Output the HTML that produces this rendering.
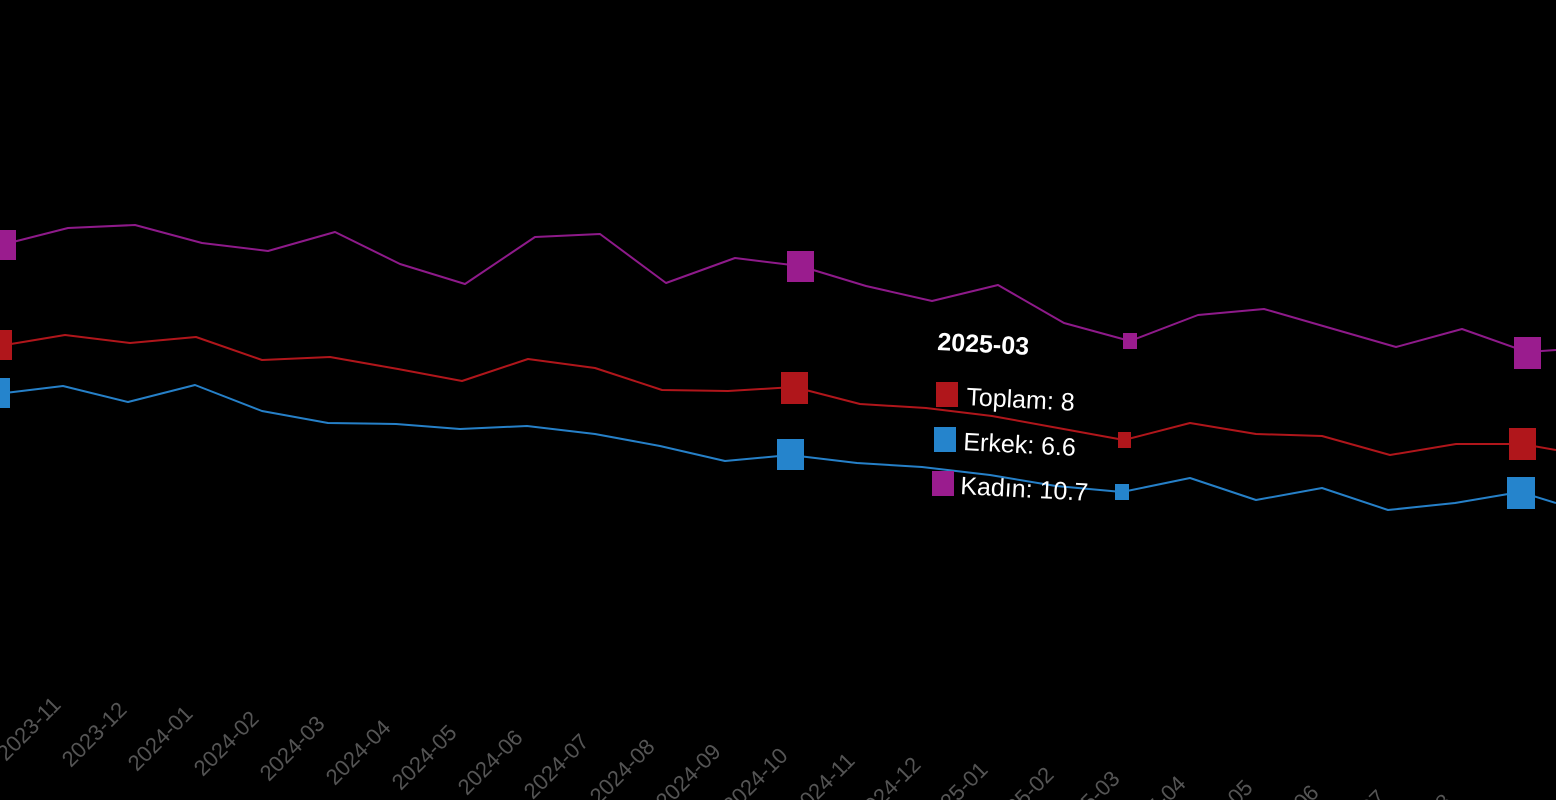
<!DOCTYPE html>
<html><head><meta charset="utf-8"><style>
html,body{margin:0;padding:0;background:#000;width:1556px;height:800px;overflow:hidden}
svg{display:block}
text{font-family:"Liberation Sans",sans-serif}
</style></head><body>
<svg width="1556" height="800" viewBox="0 0 1556 800">
<rect width="1556" height="800" fill="#000"/>
<g fill="none" stroke-width="2" stroke-linejoin="round">
<polyline stroke="#8e1a8a" points="5,244 68,228 135,225 202,243 268,251 335,232 400,264 465,284 535,237 600,234 666,283 735,258 800,266 866,286 932,301 998,285 1064,323 1130,341 1198,315 1264,309 1330,328 1396,347 1462,329 1527,352 1556,350"/>
<polyline stroke="#b0161b" points="5,345 65,335 130,343 196,337 262,360 330,357 398,369 462,381 528,359 595,368 662,390 728,391 794,387 860,404 926,408 992,416 1058,428 1124,440 1190,423 1256,434 1322,436 1390,455 1456,444 1522,444 1556,450"/>
<polyline stroke="#2680c8" points="5,393 63,386 128,402 195,385 262,411 328,423 396,424 460,429 527,426 595,434 660,446 725,461 790,455 857,463 922,467 990,475 1056,486 1122,492 1190,478 1256,500 1322,488 1388,510 1455,503 1520,492 1556,503"/>
</g>
<g>
<rect x="-8" y="230" width="24" height="30" fill="#9a1c8e"/>
<rect x="787" y="251" width="27" height="31" fill="#9a1c8e"/>
<rect x="1123" y="333" width="14" height="16" fill="#9a1c8e"/>
<rect x="1514" y="337" width="27" height="32" fill="#9a1c8e"/>
<rect x="-8" y="330" width="20" height="30" fill="#b0161b"/>
<rect x="781" y="372" width="27" height="32" fill="#b0161b"/>
<rect x="1118" y="432" width="13" height="16" fill="#b0161b"/>
<rect x="1509" y="428" width="27" height="32" fill="#b0161b"/>
<rect x="-8" y="378" width="18" height="30" fill="#2584cc"/>
<rect x="777" y="439" width="27" height="31" fill="#2584cc"/>
<rect x="1115" y="484" width="14" height="16" fill="#2584cc"/>
<rect x="1507" y="477" width="28" height="32" fill="#2584cc"/>
</g>
<g fill="#fff">
<text x="937" y="350" font-size="25" font-weight="bold" transform="rotate(3 937 350)">2025-03</text>
<rect x="936" y="382" width="22" height="25" fill="#b0161b"/>
<text x="966" y="405" font-size="25" transform="rotate(3 966 405)">Toplam: 8</text>
<rect x="934" y="427" width="22" height="25" fill="#2584cc"/>
<text x="963" y="450" font-size="25" transform="rotate(3 963 450)">Erkek: 6.6</text>
<rect x="932" y="471" width="22" height="25" fill="#9a1c8e"/>
<text x="960" y="494" font-size="25" transform="rotate(3 960 494)">Kadın: 10.7</text>
</g>
<g fill="#555" font-size="22" text-anchor="end">
<text transform="translate(62,706) rotate(-45)">2023-11</text>
<text transform="translate(128,711) rotate(-45)">2023-12</text>
<text transform="translate(194,715) rotate(-45)">2024-01</text>
<text transform="translate(260,720) rotate(-45)">2024-02</text>
<text transform="translate(326,725) rotate(-45)">2024-03</text>
<text transform="translate(392,729) rotate(-45)">2024-04</text>
<text transform="translate(458,734) rotate(-45)">2024-05</text>
<text transform="translate(524,739) rotate(-45)">2024-06</text>
<text transform="translate(590,743) rotate(-45)">2024-07</text>
<text transform="translate(656,748) rotate(-45)">2024-08</text>
<text transform="translate(722,753) rotate(-45)">2024-09</text>
<text transform="translate(789,757) rotate(-45)">2024-10</text>
<text transform="translate(856,762) rotate(-45)">2024-11</text>
<text transform="translate(922,766) rotate(-45)">2024-12</text>
<text transform="translate(989,771) rotate(-45)">2025-01</text>
<text transform="translate(1055,776) rotate(-45)">2025-02</text>
<text transform="translate(1121,780) rotate(-45)">2025-03</text>
<text transform="translate(1187,785) rotate(-45)">2025-04</text>
<text transform="translate(1254,789) rotate(-45)">2025-05</text>
<text transform="translate(1320,794) rotate(-45)">2025-06</text>
<text transform="translate(1387,799) rotate(-45)">2025-07</text>
<text transform="translate(1453,803) rotate(-45)">2025-08</text>
<text transform="translate(1520,808) rotate(-45)">2025-09</text>
</g>
</svg>
</body></html>
